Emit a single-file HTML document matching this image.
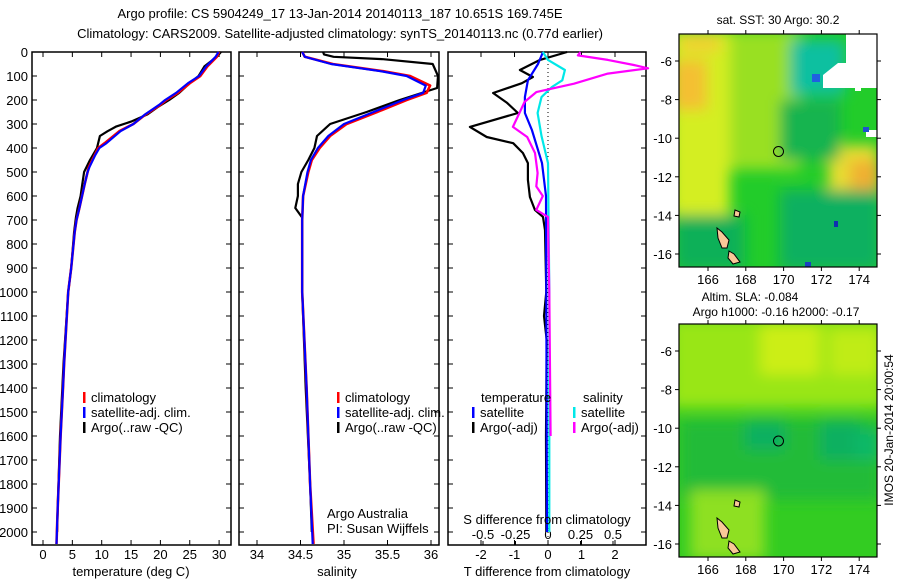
<!DOCTYPE html>
<html><head><meta charset="utf-8">
<style>
html,body{margin:0;padding:0;background:#fff;}
svg{display:block;font-family:"Liberation Sans",Arial,sans-serif;font-size:13px;}
</style></head>
<body>
<svg id="fig" width="900" height="580" viewBox="0 0 900 580" xmlns="http://www.w3.org/2000/svg">
<defs>
<filter id="blur4" filterUnits="userSpaceOnUse" x="600" y="0" width="300" height="580"><feGaussianBlur stdDeviation="7"/></filter>
<clipPath id="clipTop"><rect x="679" y="34" width="198" height="233"/></clipPath>
<clipPath id="clipBot"><rect x="679" y="324" width="198" height="233"/></clipPath>
</defs>
<text x="340" y="18" text-anchor="middle">Argo profile: CS 5904249_17 13-Jan-2014 20140113_187 10.651S 169.745E</text>
<text x="340" y="38" text-anchor="middle">Climatology: CARS2009. Satellite-adjusted climatology: synTS_20140113.nc (0.77d earlier)</text>

<!-- Maps -->
<g clip-path="url(#clipTop)">
  <rect x="679" y="34" width="198" height="233" fill="#22cc2a"/>
  <g filter="url(#blur4)">
    <rect x="670" y="30" width="60" height="185" fill="#d4ee22"/>
    <rect x="730" y="30" width="70" height="140" fill="#99e022"/>
    <rect x="672" y="60" width="35" height="50" fill="#f4c030"/>
    <rect x="680" y="34" width="40" height="18" fill="#f0d030"/>
    <rect x="828" y="145" width="50" height="65" fill="#e8dd30"/>
    <rect x="850" y="160" width="30" height="30" fill="#f0b030"/>
    <rect x="780" y="190" width="100" height="80" fill="#10b060"/>
    <rect x="675" y="215" width="70" height="55" fill="#10b058"/>
    <rect x="790" y="40" width="55" height="55" fill="#10c0a0"/>
    <rect x="780" y="100" width="60" height="60" fill="#14b450"/>
  </g>
  <rect x="812" y="74" width="8" height="8" fill="#2060e0"/>
  <rect x="830" y="73" width="12" height="12" fill="#1a5fd8"/>
  <rect x="805" y="262" width="6" height="6" fill="#1a40c0"/>
  <rect x="834" y="221" width="4" height="6" fill="#1030b0"/>
  <polygon points="846,34 877,34 877,88 861,88 861,91 855,91 855,88 823,88 823,75 838,63 846,63" fill="#fff"/>
  <rect x="866" y="130" width="11" height="7" fill="#fff"/>
  <rect x="863" y="127" width="6" height="5" fill="#2050d0"/>
</g>
<g clip-path="url(#clipBot)">
  <rect x="679" y="324" width="198" height="233" fill="#33cc22"/>
  <g filter="url(#blur4)">
    <rect x="670" y="318" width="215" height="90" fill="#99e618"/>
    <rect x="760" y="325" width="60" height="50" fill="#ccee14"/>
    <rect x="830" y="330" width="50" height="45" fill="#c0ec14"/>
    <rect x="680" y="420" width="200" height="80" fill="#22bb38"/>
    <rect x="745" y="420" width="40" height="30" fill="#10b060"/>
    <rect x="820" y="420" width="40" height="40" fill="#10b060"/>
    <rect x="855" y="430" width="25" height="30" fill="#08b868"/>
    <rect x="690" y="490" width="75" height="70" fill="#8ee020"/>
  </g>
</g>
<g stroke="#000" stroke-width="1">
  <polygon points="717,228 722,232 729,240 727,248 722,248 718,238" fill="#f8c898"/>
  <polygon points="729,251 734,254 740,262 733,264 728,258" fill="#f8c898"/>
  <polygon points="735,210 740,212 739,217 734,216" fill="#f8c898"/>
  <polygon points="717,518 722,522 729,530 727,538 722,538 718,528" fill="#f8c898"/>
  <polygon points="729,541 734,544 740,552 733,554 728,548" fill="#f8c898"/>
  <polygon points="735,500 740,502 739,507 734,506" fill="#f8c898"/>
  <circle cx="778.5" cy="151.5" r="5" fill="none"/>
  <circle cx="778.5" cy="441" r="5" fill="none"/>
</g>
<g id="mapaxes"></g>
<text x="778" y="24" text-anchor="middle" font-size="12">sat. SST: 30 Argo: 30.2</text>
<text x="750" y="301" text-anchor="middle" font-size="12">Altim. SLA: -0.084</text>
<text x="776" y="316" text-anchor="middle" font-size="12">Argo h1000: -0.16 h2000: -0.17</text>
<text transform="translate(893,430) rotate(-90)" text-anchor="middle" font-size="12">IMOS 20-Jan-2014 20:00:54</text>

<g id="panels"></g>
</svg>
<script>
// ---------- data ----------
const depthTicks = [0,100,200,300,400,500,600,700,800,900,1000,1100,1200,1300,1400,1500,1600,1700,1800,1900,2000];
const tempTicks = [0,5,10,15,20,25,30];
const salTicks = [34,34.5,35,35.5,36];
const tdiffTicks = [-2,-1,0,1,2];
const sdiffTicks = [-0.5,-0.25,0,0.25,0.5];
const sdiffTickLabels = ["-0.5","-0.25","0","0.25","0.5"];

const climDepth = [0,20,60,100,130,170,200,220,260,300,330,380,400,430,480,500,550,650,700,750,900,1000,1300,1400,1600,1900,2050];
const climTemp  = [30,29.6,28,26.8,25,23,21,20,17.5,15.4,13,10.5,9.4,8.8,7.8,7.6,7.1,6.2,5.7,5.4,4.8,4.3,3.6,3.4,3.0,2.5,2.3];
const satTemp   = [29.9,29.4,27.8,26.6,24.7,22.7,20.8,19.8,17.4,15.4,13.2,10.8,9.6,8.9,7.9,7.6,7.1,6.2,5.7,5.4,4.8,4.3,3.6,3.4,3.0,2.5,2.3];
const argoDepth = [0,20,60,100,130,170,200,230,260,290,310,330,350,400,450,500,550,600,650,690,750,900,1000,1300,1600,1900,2000];
const argoTemp  = [30.3,29.6,27.5,26.5,25,23.2,21.5,19.5,17.8,15,12.5,11,9.7,9.2,8.0,7.0,6.7,6.4,5.9,5.6,5.3,4.8,4.3,3.5,2.9,2.5,2.4];

const salDepth = [0,20,50,80,100,140,170,200,250,300,350,400,450,500,600,700,1000,1400,1800,2050];
const climSal  = [34.52,34.55,34.87,35.45,35.76,35.99,35.95,35.72,35.38,35.03,34.84,34.72,34.63,34.59,34.53,34.52,34.52,34.57,34.61,34.65];
const satSal   = [34.52,34.55,34.85,35.42,35.72,35.94,35.91,35.68,35.34,35.0,34.82,34.70,34.62,34.58,34.53,34.52,34.52,34.57,34.61,34.64];
const argoSalDepth = [0,10,20,30,50,100,150,200,250,300,350,400,450,500,550,600,650,690,1000,1400,1800,2000];
const argoSal  = [34.76,34.77,34.88,35.45,36.02,36.08,36.07,35.64,35.26,34.84,34.69,34.66,34.59,34.51,34.47,34.47,34.44,34.52,34.52,34.56,34.61,34.63];

const dTDepth = [0,33,75,104,130,171,212,254,312,354,380,421,463,533,604,658,687,742,1000,1100,1200,1600,2000];
const dTArgo  = [0.57,-0.24,-0.84,-0.45,-0.78,-1.64,-1.22,-0.9,-2.33,-1.83,-1.04,-0.75,-0.6,-0.6,-0.54,-0.39,-0.15,-0.09,-0.05,-0.12,-0.04,-0.06,-0.05];
const dTSatDepth = [0,50,118,188,254,325,463,600,1000,2000];
const dTSat   = [-0.15,-0.3,-0.6,-0.69,-0.69,-0.48,-0.18,-0.06,-0.05,-0.03];
const dSSatDepth = [0,33,75,118,146,188,254,350,463,1000,2000];
const dSSat   = [-0.04,0,0.13,0.11,0.03,-0.05,-0.08,-0.05,0,0.01,0.01];
const dSArgoDepth = [0,14,33,54,68,90,132,167,208,254,312,354,421,504,560,600,658,687,1000,1600];
const dSArgo  = [0.25,0.23,0.46,0.66,0.77,0.46,0.2,-0.09,-0.18,-0.22,-0.27,-0.16,-0.1,-0.08,-0.09,-0.04,-0.09,0,0.01,0.02];

const lonTicks = [166,168,170,172,174];
const latTicks = [-6,-8,-10,-12,-14,-16];

// ---------- scales ----------
const yD = d => 52 + 0.24*d;
const xT = t => 43 + 5.87*t;
const xS = s => 257 + 87*(s-34);
const xdT = v => 548 + 33.5*v;
const xdS = v => 548 + 130*v;
const xLon = l => 708 + 18.9*(l-166);
const yLatTop = l => 61 + 19.3*(-6-l);
const yLatBot = l => 351 + 19.3*(-6-l);

const NS = "http://www.w3.org/2000/svg";
const panels = document.getElementById('panels');
function mk(tag, attrs, parent){
  const e = document.createElementNS(NS, tag);
  for (const k in attrs) e.setAttribute(k, attrs[k]);
  (parent||panels).appendChild(e);
  return e;
}
function line(xs, ds, xf, color, name, w){
  const pts = xs.map((v,i)=>xf(v).toFixed(1)+','+yD(ds[i]).toFixed(1)).join(' ');
  const p = mk('polyline', {points: pts, fill:'none', stroke: color, 'stroke-width': w||2.2, 'stroke-linejoin':'round'});
  
  
  return p;
}
function frame(x0, x1, name){
  const r = mk('rect', {x:x0, y:52, width:x1-x0, height:493, fill:'none', stroke:'#000', 'stroke-width':1.5});
  
  
  depthTicks.forEach(d=>{
    mk('line',{x1:x0,x2:x0+5,y1:yD(d),y2:yD(d),stroke:'#000'});
    mk('line',{x1:x1-5,x2:x1,y1:yD(d),y2:yD(d),stroke:'#000'});
  });
}
function xticks(vals, xf, labels, y, name){
  vals.forEach((v,i)=>{
    mk('line',{x1:xf(v),x2:xf(v),y1:545,y2:540,stroke:'#000'});
    mk('line',{x1:xf(v),x2:xf(v),y1:52,y2:57,stroke:'#000'});
    const t = mk('text',{x:xf(v), y:y, 'text-anchor':'middle'});
    t.textContent = labels ? labels[i] : String(v);
    
    
  });
}
function text(x,y,s,name,anchor){
  const t = mk('text',{x:x,y:y,'text-anchor':anchor||'start'});
  t.textContent = s;
  
  
  return t;
}
function legend(x,y,color,label,name){
  const r = mk('rect',{x:x,y:y-10,width:2.5,height:11,fill:color});
  
  
  text(x+8,y,label,name);
}

// panel 1
frame(32,231,'temperature-panel-frame');
depthTicks.forEach(d=>{ text(28, yD(d)+5, String(d), 'depth-tick-label', 'end'); });
xticks(tempTicks, xT, null, 559, 'temperature-tick-label');
line(argoTemp, argoDepth, xT, '#000', 'argo-temperature-line');
line(climTemp, climDepth, xT, '#ff0000', 'climatology-temperature-line', 2.6);
line(satTemp, climDepth, xT, '#0000ff', 'satellite-temperature-line');
text(131,576,'temperature (deg C)','temperature-axis-title','middle');
legend(83,402,'#ff0000','climatology','legend-climatology');
legend(83,417,'#0000ff','satellite-adj. clim.','legend-satellite');
legend(83,432,'#000','Argo(..raw -QC)','legend-argo');

// panel 2
frame(239,439,'salinity-panel-frame');
xticks(salTicks, xS, null, 559, 'salinity-tick-label');
line(argoSal, argoSalDepth, xS, '#000', 'argo-salinity-line');
line(climSal, salDepth, xS, '#ff0000', 'climatology-salinity-line', 2.6);
line(satSal, salDepth, xS, '#0000ff', 'satellite-salinity-line');
text(337,576,'salinity','salinity-axis-title','middle');
legend(337,402,'#ff0000','climatology','legend-climatology-2');
legend(337,417,'#0000ff','satellite-adj. clim.','legend-satellite-2');
legend(337,432,'#000','Argo(..raw -QC)','legend-argo-2');
text(327,518,'Argo Australia','credit-line-1');
text(327,533,'PI: Susan Wijffels','credit-line-2');

// panel 3
frame(448,646,'difference-panel-frame');
mk('line',{x1:548,x2:548,y1:52,y2:545,stroke:'#000','stroke-dasharray':'1,3'});
xticks(tdiffTicks, xdT, null, 559, 'tdiff-tick-label');
sdiffTicks.forEach((v,i)=>{
  mk('line',{x1:xdS(v),x2:xdS(v),y1:545,y2:541,stroke:'#000'});
  text(xdS(v), 539, sdiffTickLabels[i], 'sdiff-tick-label', 'middle');
});
line(dTArgo, dTDepth, xdT, '#000', 'argo-temperature-difference-line');
line(dTSat, dTSatDepth, xdT, '#0000ff', 'satellite-temperature-difference-line');
line(dSSat, dSSatDepth, xdS, '#00e8e8', 'satellite-salinity-difference-line');
line(dSArgo, dSArgoDepth, xdS, '#ff00ff', 'argo-salinity-difference-line');
text(547,576,'T difference from climatology','tdiff-axis-title','middle');
text(547,524,'S difference from climatology','sdiff-axis-title','middle');
text(481,402,'temperature','legend-temperature-header');
legend(472,417,'#0000ff','satellite','legend-t-satellite');
legend(472,432,'#000','Argo(-adj)','legend-t-argo');
text(583,402,'salinity','legend-salinity-header');
legend(573,417,'#00e8e8','satellite','legend-s-satellite');
legend(573,432,'#ff00ff','Argo(-adj)','legend-s-argo');

// map axes
const ma = document.getElementById('mapaxes');
[[34,267,yLatTop,'sst'],[324,557,yLatBot,'sla']].forEach(([y0,y1,yf,nm])=>{
  const r = mk('rect',{x:679,y:y0,width:198,height:y1-y0,fill:'none',stroke:'#000','stroke-width':1.2},ma);
  
  
  lonTicks.forEach(l=>{
    mk('line',{x1:xLon(l),x2:xLon(l),y1:y1,y2:y1+4,stroke:'#000'},ma);
    mk('line',{x1:xLon(l),x2:xLon(l),y1:y0,y2:y0-4,stroke:'#000'},ma);
    const t = mk('text',{x:xLon(l),y:y1+17,'text-anchor':'middle'},ma);
    t.textContent = String(l);
    
    
  });
  latTicks.forEach(l=>{
    mk('line',{x1:679,x2:675,y1:yf(l),y2:yf(l),stroke:'#000'},ma);
    mk('line',{x1:877,x2:881,y1:yf(l),y2:yf(l),stroke:'#000'},ma);
    const t = mk('text',{x:672,y:yf(l)+5,'text-anchor':'end'},ma);
    t.textContent = String(l);
    
    
  });
});
</script>
</body></html>
